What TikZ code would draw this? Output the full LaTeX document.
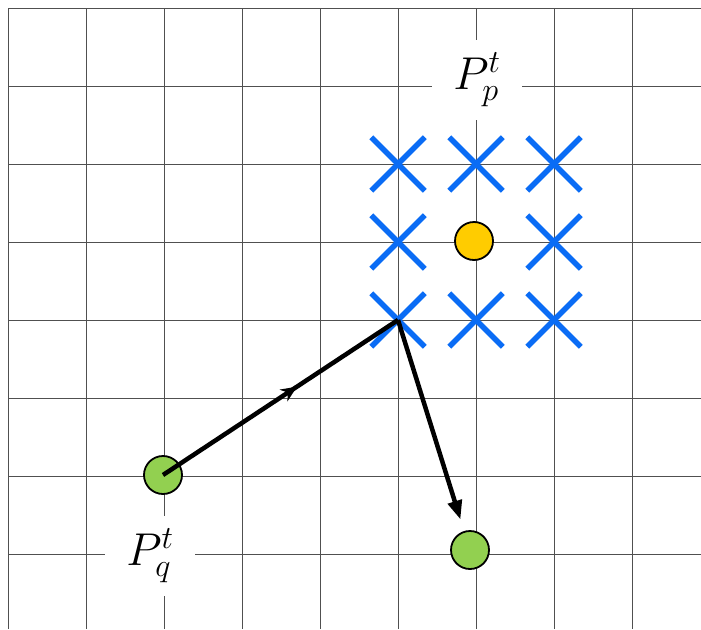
\RequirePackage{fix-cm}
\documentclass[tikz,border=0pt]{standalone}
\usetikzlibrary{arrows.meta,decorations.markings,shapes.misc}
\definecolor{gridc}{HTML}{505050}
\definecolor{crossc}{HTML}{0A6CF5}
\definecolor{greenc}{HTML}{92D050}
\definecolor{yellowc}{HTML}{FFCC00}
\begin{document}
\begin{tikzpicture}[x=1pt,y=-1pt,
  gridline/.style={draw=gridc,line width=0.9pt},
  lab/.style={fill=white,inner sep=0pt,minimum width=90pt,minimum height=80pt,font=\fontsize{46}{52}\selectfont},
  crossmark/.style={draw=crossc,cross out,line width=5.5pt,minimum size=48pt,inner sep=0pt},
  dot/.style={circle,draw=black,line width=1.8pt,minimum size=38pt,inner sep=0pt},
  arrowline/.style={draw=black,line width=4.5pt},
  midarrow/.style={postaction={decorate},decoration={markings,mark=at position 0.57 with {\arrow{Stealth[length=16pt,width=14pt]}}}}]
\useasboundingbox (0,0) rectangle (701,629);
\fill[white] (0,0) rectangle (701,629);
\foreach \x in {8,86,...,632} \draw[gridline] (\x,8) -- (\x,629);
\foreach \y in {8,86,...,554} \draw[gridline] (8,\y) -- (701,\y);
% labels
\node[lab] (pp) at (477,80) {$P_p^t$};
\node[lab] (pq) at (150,556) {$P_q^t$};
% crosses
\node[crossmark] (x11) at (398,164) {};
\node[crossmark] (x12) at (476,164) {};
\node[crossmark] (x13) at (554,164) {};
\node[crossmark] (x21) at (398,242) {};
\node[crossmark] (x23) at (554,242) {};
\node[crossmark] (x31) at (398,320) {};
\node[crossmark] (x32) at (476,320) {};
\node[crossmark] (x33) at (554,320) {};
% circles
\node[dot,fill=yellowc] (y1) at (474,241) {};
\node[dot,fill=greenc] (g1) at (163,475) {};
\node[dot,fill=greenc] (g2) at (470,550) {};
% arrows
\draw[arrowline,midarrow] (g1.center) -- (x31.center);
\draw[arrowline,-{Triangle[length=19pt,width=14pt]},shorten >=12pt] (x31.center) -- (g2);
\end{tikzpicture}
\end{document}
